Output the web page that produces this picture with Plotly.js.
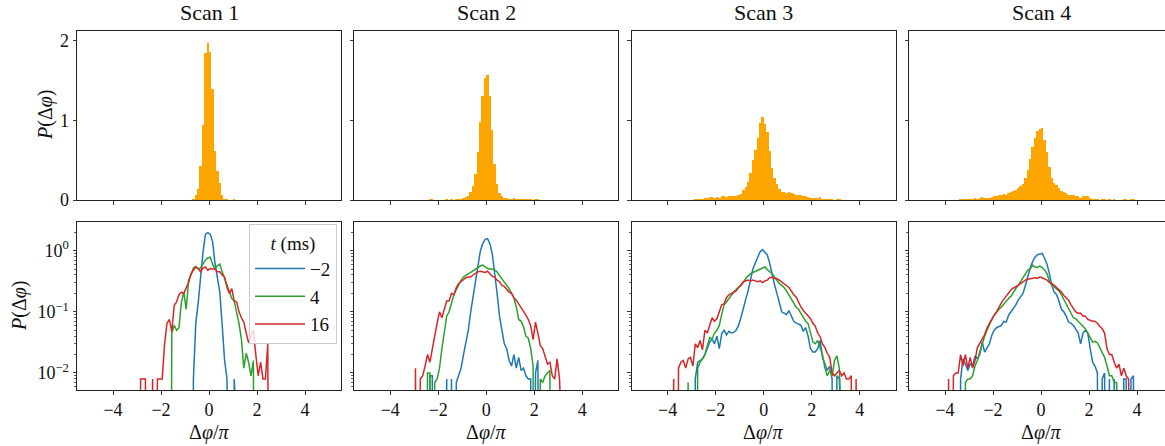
<!DOCTYPE html>
<html>
<head>
<meta charset="utf-8">
<script src="https://cdn.plot.ly/plotly-3.0.1.min.js"></script>
<style>
html, body { margin: 0; padding: 0; overflow: hidden; background: #fff; }
#chart { width: 1176px; height: 446px; }
</style>
</head>
<body>
<div id="chart"></div>
<script>
// ---------------- DATA ----------------
const scanNames = ["Scan 1", "Scan 2", "Scan 3", "Scan 4"];
const timeLabels = ["\u22122", "4", "16"];   // t (ms)

// bin centres of Δφ/π (bin width 0.1)
const binCenters = [
 -4.05,-3.95,-3.85,-3.75,-3.65,-3.55,-3.45,-3.35,-3.25,-3.15,
 -3.05,-2.95,-2.85,-2.75,-2.65,-2.55,-2.45,-2.35,-2.25,-2.15,
 -2.05,-1.95,-1.85,-1.75,-1.65,-1.55,-1.45,-1.35,-1.25,-1.15,
 -1.05,-0.95,-0.85,-0.75,-0.65,-0.55,-0.45,-0.35,-0.25,-0.15,
 -0.05,0.05,0.15,0.25,0.35,0.45,0.55,0.65,0.75,0.85,
 0.95,1.05,1.15,1.25,1.35,1.45,1.55,1.65,1.75,1.85,
 1.95,2.05,2.15,2.25,2.35,2.45,2.55,2.65,2.75,2.85,
 2.95,3.05,3.15,3.25,3.35,3.45,3.55,3.65,3.75,3.85,
 3.95,4.05];
const binWidth = 0.1;

// Scan 1
const scan1_tm2 = [
 0,0,0,0,0,0,0,0,0,0,
 0,0,0,0,0,0,0,0,0,0,
 0,0,0,0,0,0,0,0,0,0,
 0,0,0,0,0.008,0.066,0.14,0.43,0.94,1.84,
 1.97,1.86,1.39,0.62,0.37,0.21,0.06,0.016,0.008,0,
 0,0.008,0,0,0,0,0,0,0,0,
 0,0,0,0,0,0,0,0,0,0,
 0,0,0,0,0,0,0,0,0,0,
 0,0];
const scan1_t4 = [
 0,0,0,0,0,0,0,0,0,0,
 0,0,0,0,0,0,0,0,0,0,
 0,0,0,0,0,0.045,0.06,0.05,0.055,0.145,
 0.21,0.11,0.33,0.4,0.52,0.55,0.5,0.52,0.6,0.7,
 0.76,0.78,0.6,0.5,0.57,0.6,0.45,0.35,0.27,0.2,
 0.165,0.15,0.1,0.064,0.036,0.012,0.021,0.015,0.009,0.016,
 0,0,0,0,0,0,0,0,0,0,
 0,0,0,0,0,0,0,0,0,0,
 0,0];
const scan1_t16 = [
 0,0,0,0,0,0,0,0,0,0,
 0,0,0.008,0.008,0.008,0,0,0.008,0,0.008,
 0.008,0.008,0.03,0.065,0.075,0.047,0.128,0.145,0.19,0.21,
 0.2,0.25,0.3,0.42,0.48,0.54,0.51,0.45,0.52,0.54,
 0.48,0.51,0.5,0.5,0.45,0.45,0.4,0.37,0.25,0.2,
 0.24,0.15,0.145,0.1,0.08,0.068,0.045,0.031,0.04,0.05,
 0.02,0.009,0.015,0.008,0.008,0.03,0,0,0,0,
 0,0,0,0,0,0,0,0,0,0,
 0,0];

// Scan 2
const scan2_tm2 = [
 0,0,0,0,0,0,0,0,0,0,
 0,0,0,0,0,0,0,0.009,0.009,0,
 0,0,0,0,0.008,0,0.008,0,0.007,0.009,
 0.012,0.02,0.032,0.05,0.1,0.18,0.32,0.6,0.98,1.3,
 1.53,1.57,1.3,0.88,0.45,0.2,0.085,0.05,0.03,0.025,
 0.016,0.013,0.02,0.012,0.018,0.011,0.012,0.009,0.008,0.008,
 0,0.01,0.016,0,0,0,0,0,0,0,
 0,0,0,0,0,0,0,0,0,0,
 0,0];
const scan2_t4 = [
 0,0,0,0,0,0,0,0,0,0,
 0,0,0,0,0,0,0.01,0.01,0,0.007,
 0.008,0.012,0.025,0.05,0.085,0.1,0.14,0.19,0.23,0.28,
 0.33,0.37,0.4,0.42,0.44,0.47,0.5,0.53,0.56,0.58,
 0.54,0.51,0.5,0.5,0.48,0.45,0.39,0.34,0.3,0.27,
 0.24,0.2,0.17,0.12,0.075,0.07,0.057,0.04,0.037,0.025,
 0.013,0,0,0.008,0.007,0.009,0.01,0.011,0,0,
 0,0,0,0,0,0,0,0,0,0,
 0,0];
const scan2_t16 = [
 0,0,0,0,0,0,0,0,0,0,
 0,0.012,0,0.008,0.009,0.013,0.02,0.015,0.025,0.045,
 0.065,0.1,0.08,0.11,0.15,0.15,0.2,0.19,0.25,0.29,
 0.31,0.33,0.36,0.37,0.37,0.4,0.43,0.45,0.46,0.45,
 0.44,0.46,0.41,0.38,0.37,0.33,0.31,0.27,0.26,0.23,
 0.21,0.2,0.17,0.155,0.135,0.12,0.1,0.088,0.075,0.06,
 0.035,0.068,0.045,0.028,0.025,0.019,0.014,0.015,0.009,0.008,
 0.017,0.008,0,0,0,0,0,0,0,0,
 0,0];

// Scan 3
const scan3_tm2 = [
 0,0,0,0,0,0,0,0,0,0,
 0,0,0.008,0.015,0.016,0.017,0.02,0.025,0.032,0.036,
 0.03,0.04,0.025,0.044,0.05,0.042,0.048,0.045,0.046,0.05,
 0.06,0.08,0.12,0.16,0.22,0.34,0.5,0.63,0.78,0.96,
 1.04,0.95,0.85,0.62,0.4,0.28,0.2,0.14,0.1,0.095,
 0.09,0.105,0.085,0.07,0.066,0.062,0.06,0.048,0.055,0.04,
 0.025,0.022,0.022,0.025,0.034,0.018,0.014,0.011,0.013,0.008,
 0,0.009,0.008,0,0,0,0,0,0,0,
 0,0];
const scan3_t4 = [
 0,0,0,0,0,0,0,0,0,0.007,
 0,0,0,0.012,0.015,0.017,0.02,0.028,0.038,0.036,
 0.045,0.05,0.06,0.09,0.13,0.145,0.165,0.18,0.21,0.23,
 0.25,0.27,0.3,0.35,0.39,0.42,0.44,0.46,0.48,0.5,
 0.53,0.54,0.49,0.46,0.42,0.37,0.32,0.29,0.27,0.25,
 0.22,0.19,0.165,0.135,0.12,0.11,0.095,0.08,0.07,0.064,
 0.045,0.032,0.03,0.034,0.026,0.02,0.012,0.009,0.011,0.009,
 0.016,0.019,0.012,0,0,0,0,0,0,0,
 0,0];
const scan3_t16 = [
 0,0,0,0.008,0,0.012,0.015,0.016,0.012,0.017,
 0.018,0.013,0.03,0.026,0.034,0.024,0.05,0.045,0.06,0.08,
 0.07,0.077,0.1,0.13,0.135,0.17,0.19,0.2,0.21,0.22,
 0.25,0.27,0.31,0.32,0.33,0.32,0.33,0.32,0.31,0.32,
 0.3,0.32,0.33,0.36,0.37,0.35,0.35,0.33,0.31,0.29,
 0.27,0.25,0.22,0.19,0.175,0.14,0.12,0.105,0.095,0.085,
 0.077,0.065,0.058,0.045,0.039,0.03,0.026,0.021,0.018,0.01,
 0.009,0.01,0.011,0.009,0.01,0.008,0.008,0.009,0,0.008,
 0,0];

// Scan 4
const scan4_tm2 = [
 0,0,0,0,0,0,0,0.008,0.017,0.014,
 0.011,0.014,0.013,0.019,0.017,0.02,0.032,0.022,0.026,0.03,
 0.041,0.05,0.055,0.058,0.06,0.07,0.068,0.088,0.1,0.11,
 0.13,0.155,0.18,0.2,0.27,0.38,0.52,0.66,0.78,0.86,
 0.89,0.9,0.75,0.6,0.42,0.27,0.21,0.19,0.15,0.11,
 0.1,0.085,0.068,0.065,0.06,0.053,0.045,0.03,0.045,0.05,
 0.045,0.025,0.015,0.013,0.01,0,0.008,0.01,0,0.008,
 0,0.008,0,0,0,0.008,0.008,0,0.008,0.009,
 0,0];
const scan4_t4 = [
 0,0,0,0,0,0,0,0,0,0.007,
 0.008,0.008,0.009,0.013,0.016,0.022,0.03,0.04,0.05,0.062,
 0.075,0.088,0.1,0.11,0.12,0.135,0.15,0.165,0.18,0.21,
 0.24,0.27,0.31,0.36,0.42,0.48,0.5,0.58,0.54,0.53,
 0.56,0.53,0.48,0.42,0.32,0.27,0.255,0.24,0.22,0.19,
 0.16,0.135,0.115,0.095,0.08,0.077,0.07,0.066,0.06,0.053,
 0.045,0.038,0.032,0.033,0.031,0.026,0.022,0.018,0.013,0.009,
 0.009,0.007,0.007,0,0,0,0,0,0,0,
 0,0];
const scan4_t16 = [
 0,0,0.008,0,0.009,0.01,0.01,0.02,0.013,0.02,
 0.012,0.018,0.012,0.016,0.026,0.03,0.035,0.042,0.055,0.065,
 0.075,0.088,0.1,0.12,0.14,0.16,0.18,0.2,0.23,0.245,
 0.255,0.27,0.29,0.31,0.33,0.34,0.345,0.35,0.36,0.355,
 0.37,0.36,0.34,0.33,0.3,0.29,0.27,0.25,0.23,0.21,
 0.185,0.17,0.155,0.13,0.112,0.1,0.095,0.095,0.085,0.085,
 0.075,0.072,0.07,0.07,0.065,0.058,0.053,0.045,0.025,0.02,
 0.02,0.015,0.012,0.014,0.009,0.012,0.009,0.008,0,0,
 0,0];

const xTickVals = [-4, -2, 0, 2, 4];
const xTickText = ["\u22124", "\u22122", "0", "2", "4"];
const yTopTickVals = [0, 1, 2];
const yLogTickVals = [0.01, 0.1, 1];
const yLogTickText = ["10<sup>\u22122</sup>", "10<sup>\u22121</sup>", "10<sup>0</sup>"];

// ---------------- FIGURE ----------------
const scans = [
  [scan1_tm2, scan1_t4, scan1_t16],
  [scan2_tm2, scan2_t4, scan2_t16],
  [scan3_tm2, scan3_t4, scan3_t16],
  [scan4_tm2, scan4_t4, scan4_t16]
];
const lineColors = ["#1f77b4", "#2ca02c", "#d62728"];
const barColor = "#FFA500";

const W = 1176, H = 446;
const px = v => v / W;
const py = v => 1 - v / H;
const colLeft = [77, 354.3, 631.7, 909];
const panelW = 264;
const topRow = [py(200), py(31)];
const botRow = [py(390), py(222)];

const FONT = "'Liberation Serif', 'Times New Roman', serif";
const axBase = {
  showline: true, mirror: true, linecolor: "#222", linewidth: 1,
  ticks: "outside", ticklen: 3.5, tickwidth: 0.9, tickcolor: "#222",
  showgrid: false, zeroline: false, fixedrange: true,
  tickfont: { family: FONT, size: 18, color: "#111" }
};

// matplotlib-like clipping of non-positive values on a log axis
const clipLog = arr => arr.map(v => (v > 0 ? v : 1e-12));

const minorLog = [];
for (let d = -3; d <= 0; d++) for (let m = 2; m <= 9; m++) minorLog.push(m * Math.pow(10, d));

const data = [];
const layout = {
  width: W, height: H,
  margin: { l: 0, r: 0, t: 0, b: 0 },
  paper_bgcolor: "#fff", plot_bgcolor: "#fff",
  bargap: 0,
  showlegend: true,
  legend: {
    x: px(337), y: py(224), xanchor: "right", yanchor: "top",
    bgcolor: "rgba(255,255,255,0.8)", bordercolor: "#cccccc", borderwidth: 1,
    font: { family: FONT, size: 19, color: "#111" },
    title: { text: "<i>t</i> (ms)", side: "top center", font: { family: FONT, size: 19, color: "#111" } },
    tracegroupgap: 7, itemwidth: 50, traceorder: "normal"
  },
  annotations: []
};

scans.forEach((series, i) => {
  const ti = i + 1, bi = i + 5;
  const xd = [px(colLeft[i]), px(colLeft[i] + panelW)];
  const xt = ti === 1 ? "x" : "x" + ti, yt = ti === 1 ? "y" : "y" + ti;
  const xb = "x" + bi, yb = "y" + bi;

  // top: histogram of t = -2 ms
  data.push({
    type: "bar", x: binCenters, y: series[0], width: binWidth,
    marker: { color: barColor, line: { width: 0 } },
    xaxis: xt, yaxis: yt, showlegend: false, hoverinfo: "skip"
  });
  // bottom: log-scale curves
  series.forEach((s, k) => {
    data.push({
      type: "scatter", mode: "lines", x: binCenters, y: clipLog(s),
      line: { color: lineColors[k], width: 1.5 },
      name: timeLabels[k], legendgroup: "t" + k,
      showlegend: i === 0, xaxis: xb, yaxis: yb, hoverinfo: "skip"
    });
  });

  layout["xaxis" + (ti === 1 ? "" : ti)] = Object.assign({}, axBase, {
    domain: xd, range: [-5.5, 5.5], tickvals: xTickVals, ticktext: xTickText,
    showticklabels: false, anchor: yt
  });
  layout["yaxis" + (ti === 1 ? "" : ti)] = Object.assign({}, axBase, {
    domain: topRow, range: [0, 2.12], tickvals: yTopTickVals,
    showticklabels: i === 0, anchor: xt
  });
  layout["xaxis" + bi] = Object.assign({}, axBase, {
    domain: xd, range: [-5.5, 5.5], tickvals: xTickVals, ticktext: xTickText,
    showticklabels: true, anchor: yb
  });
  layout["yaxis" + bi] = Object.assign({}, axBase, {
    domain: botRow, type: "log", range: [-2.278, 0.468],
    tickvals: yLogTickVals, ticktext: yLogTickText,
    showticklabels: i === 0, anchor: xb,
    minor: { tickvals: minorLog, ticks: "outside", ticklen: 2, tickwidth: 0.7, tickcolor: "#222" }
  });

  layout.annotations.push({
    text: scanNames[i], xref: "paper", yref: "paper",
    x: px(colLeft[i] + panelW / 2), y: py(13), xanchor: "center", yanchor: "middle",
    showarrow: false, font: { family: FONT, size: 22, color: "#111" }
  });
  layout.annotations.push({
    text: "\u0394<i>\u03c6</i>/<i>\u03c0</i>", xref: "paper", yref: "paper",
    x: px(colLeft[i] + panelW / 2), y: py(432), xanchor: "center", yanchor: "middle",
    showarrow: false, font: { family: FONT, size: 20, color: "#111" }
  });
});

// y-axis labels
[[46, 115], [19, 306]].forEach(([xc, yc]) => {
  layout.annotations.push({
    text: "<i>P</i>(\u0394<i>\u03c6</i>)", xref: "paper", yref: "paper",
    x: px(xc), y: py(yc), xanchor: "center", yanchor: "middle", textangle: -90,
    showarrow: false, font: { family: FONT, size: 20, color: "#111" }
  });
});

Plotly.newPlot("chart", data, layout, { displayModeBar: false, staticPlot: true });
</script>
</body>
</html>
